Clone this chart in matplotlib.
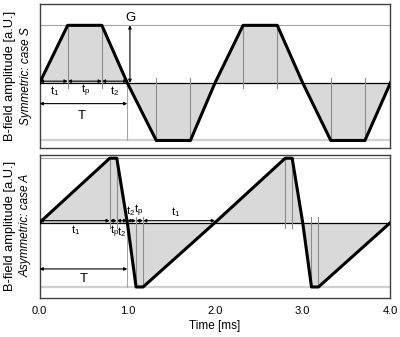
import matplotlib
matplotlib.use("Agg")
from matplotlib import pyplot as plt

plt.rcParams['font.family'] = ['Liberation Sans', 'DejaVu Sans']
plt.rcParams['mathtext.default'] = 'regular'

# symmetric waveform (case S): corner times [ms] and amplitude
t_sym = [0, 0.32, 0.71, 1.0, 1.33, 1.72, 2.0, 2.32, 2.71, 3.0, 3.32, 3.71, 4.0]
b_sym = [0, 1, 1, 0, -1, -1, 0, 1, 1, 0, -1, -1, 0]

# asymmetric waveform (case A)
t_asym = [0, 0.8, 0.88, 1.0, 1.1, 1.18, 2.0, 2.8, 2.88, 3.0, 3.1, 3.18, 4.0]
b_asym = [0, 1, 1, 0, -1, -1, 0, 1, 1, 0, -1, -1, 0]

xticks = [0.0, 1.0, 2.0, 3.0, 4.0]

fill_c = '#d9d9d9'
grid_c = '#8c8c8c'


def arrow(ax, x0, x1, y0, y1, lw=0.8):
    ax.annotate('', xy=(x1, y1), xytext=(x0, y0),
                arrowprops=dict(arrowstyle='<|-|>', lw=lw, color='black',
                                shrinkA=0, shrinkB=0, mutation_scale=4.5))


def base(ax, t, b, ylim):
    ax.axhline(1, color='#a6a6a6', lw=0.8, zorder=1)
    ax.axhline(-1, color='#d0d0d0', lw=1.6, zorder=1)
    ax.fill_between(t, b, 0, color=fill_c, lw=0, zorder=2)
    ax.axhline(0, color='black', lw=0.9, zorder=3)
    ax.plot(t, b, color='black', lw=2.2, zorder=5, solid_joinstyle='round')
    ax.set_xlim(0, 4.0)
    ax.set_ylim(*ylim)
    ax.set_yticks([])
    for s in ax.spines.values():
        s.set_color('#404040')
        s.set_linewidth(1.0)


fig = plt.figure(figsize=(4.0, 3.37), dpi=100)
ax1 = fig.add_axes([0.099, 0.561, 0.877, 0.427])
ax2 = fig.add_axes([0.099, 0.116, 0.877, 0.424])

# ---- top panel: symmetric
base(ax1, t_sym, b_sym, (-1.13, 1.37))
ax1.set_xticks([])
for k in [1, 2, 7, 8]:
    ax1.plot([t_sym[k]] * 2, [-0.08, 1], color=grid_c, lw=0.8, zorder=4)
for k in [4, 5, 10, 11]:
    ax1.plot([t_sym[k]] * 2, [0.08, -1], color=grid_c, lw=0.8, zorder=4)
ax1.plot([1.0, 1.0], [0, -1], color='#a6a6a6', lw=0.8, zorder=4)

y = 0.03
arrow(ax1, 0.0, t_sym[1], y, y)
arrow(ax1, t_sym[1], t_sym[2], y, y)
arrow(ax1, t_sym[2], t_sym[3], y, y)
ax1.text(0.17, -0.14, 't$_1$', ha='center', va='center', fontsize=8)
ax1.text(0.52, -0.14, 't$_p$', ha='center', va='center', fontsize=8)
ax1.text(0.85, -0.14, 't$_2$', ha='center', va='center', fontsize=8)
arrow(ax1, 0.0, 1.0, -0.36, -0.36)
ax1.text(0.48, -0.58, 'T', ha='center', va='center', fontsize=9.5)
arrow(ax1, 1.03, 1.03, 0.0, 1.0)
ax1.text(1.04, 1.12, 'G', ha='center', va='center', fontsize=9.5)

fig.text(0.026, 0.775, 'B-field amplitude [a.U.]', rotation=90,
         ha='center', va='center', fontsize=9.3)
fig.text(0.064, 0.775, 'Symmetric: case S', rotation=90, style='italic',
         ha='center', va='center', fontsize=8.5)

# ---- bottom panel: asymmetric
base(ax2, t_asym, b_asym, (-1.17, 1.05))
for k in [1, 2, 7, 8]:
    ax2.plot([t_asym[k]] * 2, [-0.08, 1], color=grid_c, lw=0.8, zorder=4)
for k in [4, 5, 10, 11]:
    ax2.plot([t_asym[k]] * 2, [0.08, -1], color=grid_c, lw=0.8, zorder=4)
ax2.plot([1.0, 1.0], [0, -1], color='#a6a6a6', lw=0.8, zorder=4)

y = 0.03
arrow(ax2, 0.0, 0.8, y, y)
arrow(ax2, 0.8, 0.88, y, y)
arrow(ax2, 0.88, 1.0, y, y)
arrow(ax2, 1.0, 1.1, y, y)
arrow(ax2, 1.1, 1.18, y, y)
arrow(ax2, 1.18, 2.0, y, y)
ax2.text(0.41, -0.12, 't$_1$', ha='center', va='center', fontsize=8)
ax2.text(0.85, -0.14, 't$_p$', ha='center', va='center', fontsize=8)
ax2.text(0.94, -0.14, 't$_2$', ha='center', va='center', fontsize=8)
ax2.text(1.04, 0.18, 't$_2$', ha='center', va='center', fontsize=8)
ax2.text(1.13, 0.18, 't$_p$', ha='center', va='center', fontsize=8)
ax2.text(1.55, 0.17, 't$_1$', ha='center', va='center', fontsize=8)
arrow(ax2, 0.0, 1.0, -0.72, -0.72)
ax2.text(0.5, -0.87, 'T', ha='center', va='center', fontsize=9.5)

ax2.set_xticks(xticks)
ax2.set_xticklabels([f'{v:.1f}' for v in xticks], fontsize=8)
ax2.tick_params(axis='x', length=0, pad=6)
ax2.set_xlabel('Time [ms]', fontsize=8.5, labelpad=3)

fig.text(0.026, 0.33, 'B-field amplitude [a.U.]', rotation=90,
         ha='center', va='center', fontsize=9.3)
fig.text(0.064, 0.33, 'Asymmetric: case A', rotation=90, style='italic',
         ha='center', va='center', fontsize=8.5)

fig.savefig('out.png', dpi=100)
